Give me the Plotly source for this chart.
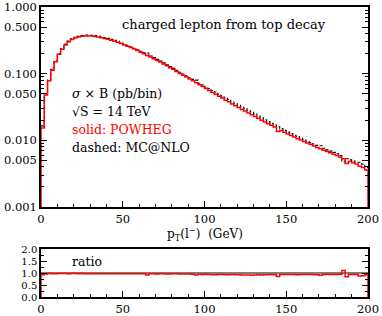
import plotly.graph_objects as go

# ---------------- data ----------------
bin_edges = list(range(0, 201, 2))  # pT bin edges (GeV), 2 GeV bins

powheg = [
    0.0153, 0.048, 0.078, 0.113, 0.151, 0.195, 0.232, 0.270, 0.300, 0.325,
    0.343, 0.355, 0.363, 0.367, 0.368, 0.366, 0.362, 0.355, 0.347, 0.338,
    0.328, 0.318, 0.307, 0.295, 0.283, 0.270, 0.258, 0.246, 0.234, 0.222,
    0.210, 0.199, 0.188, 0.178, 0.168, 0.158, 0.149, 0.140, 0.131, 0.123,
    0.116, 0.108, 0.101, 0.095, 0.089, 0.083, 0.078, 0.073, 0.068, 0.064,
    0.060, 0.056, 0.052, 0.049, 0.046, 0.043, 0.040, 0.038, 0.035, 0.033,
    0.031, 0.029, 0.0275, 0.0258, 0.0242, 0.0228, 0.0214, 0.0201, 0.0189, 0.0178,
    0.0168, 0.0158, 0.0136, 0.0140, 0.0132, 0.0125, 0.0118, 0.0112, 0.0106, 0.0101,
    0.0096, 0.0091, 0.0087, 0.0082, 0.0078, 0.0075, 0.0071, 0.0068, 0.0065, 0.0062,
    0.0059, 0.0056, 0.0053, 0.0045, 0.0048, 0.0046, 0.0044, 0.0041, 0.0039, 0.0036,
]

mcnlo = [
    0.0165, 0.050, 0.080, 0.116, 0.155, 0.200, 0.238, 0.277, 0.308, 0.333,
    0.352, 0.365, 0.372, 0.377, 0.379, 0.376, 0.372, 0.366, 0.357, 0.347,
    0.338, 0.327, 0.316, 0.305, 0.291, 0.279, 0.266, 0.254, 0.241, 0.229,
    0.217, 0.206, 0.204, 0.184, 0.174, 0.164, 0.154, 0.145, 0.136, 0.128,
    0.120, 0.112, 0.105, 0.099, 0.093, 0.087, 0.082, 0.080, 0.072, 0.068,
    0.063, 0.060, 0.056, 0.053, 0.049, 0.046, 0.043, 0.041, 0.0375, 0.0355,
    0.0335, 0.0315, 0.0300, 0.0280, 0.0266, 0.0250, 0.0232, 0.0218, 0.0204, 0.0191,
    0.0180, 0.0170, 0.0160, 0.0150, 0.0141, 0.0133, 0.0126, 0.0119, 0.0114, 0.0108,
    0.0102, 0.0097, 0.0093, 0.0088, 0.0084, 0.0083, 0.0076, 0.0072, 0.0069, 0.0066,
    0.0063, 0.0059, 0.0048, 0.0053, 0.0051, 0.0049, 0.0047, 0.0047, 0.0044, 0.0039,
]

ratio = [p / m for p, m in zip(powheg, mcnlo)]

x_tickvals = [0, 50, 100, 150, 200]
main_tickvals = [0.001, 0.005, 0.01, 0.05, 0.1, 0.5, 1.0]
main_ticktext = ["0.001", "0.005", "0.010", "0.050", "0.100", "0.500", "1.000"]
ratio_tickvals = [0.0, 0.5, 1.0, 1.5, 2.0]
ratio_ticktext = ["0.0", "0.5", "1.0", "1.5", "2.0"]


def step_closed(edges, vals, floor):
    xs = [edges[0]] + edges[:-1] + [edges[-1], edges[-1]]
    ys = [floor] + list(vals) + [vals[-1], floor]
    return xs, ys


def step_open(edges, vals):
    return edges[:-1] + [edges[-1]], list(vals) + [vals[-1]]


FONT = "DejaVu Serif"
fig = go.Figure()

# MC@NLO dashed (main)
mx, my = step_open(bin_edges, mcnlo)
fig.add_trace(go.Scatter(x=mx, y=my, mode="lines", line_shape="hv",
                         line=dict(color="black", width=1.1, dash="3px,2px"),
                         xaxis="x", yaxis="y", showlegend=False))
# POWHEG solid (main)
px_, py_ = step_closed(bin_edges, powheg, 1e-5)
fig.add_trace(go.Scatter(x=px_, y=py_, mode="lines", line_shape="hv",
                         line=dict(color="#ff0000", width=1.5),
                         xaxis="x", yaxis="y", showlegend=False))

# ratio panel
fig.add_trace(go.Scatter(x=[bin_edges[0], bin_edges[-1]], y=[1.0, 1.0], mode="lines",
                         line=dict(color="black", width=1.2),
                         xaxis="x2", yaxis="y2", showlegend=False))
rx, ry = step_closed(bin_edges, ratio, -1.0)
fig.add_trace(go.Scatter(x=rx, y=ry, mode="lines", line_shape="hv",
                         line=dict(color="#ff0000", width=1.5),
                         xaxis="x2", yaxis="y2", showlegend=False))

minor_log = [k * 10 ** e for e in (-3, -2, -1) for k in range(2, 10)]

common_axis = dict(showline=True, linecolor="black", linewidth=1.5, mirror="allticks",
                   ticks="inside", ticklen=6, tickwidth=1, tickcolor="black",
                   showgrid=False, zeroline=False, automargin=False,
                   tickfont=dict(family=FONT, size=11.5, color="black"))

fig.update_layout(
    width=382, height=316,
    margin=dict(l=41, r=14, t=7, b=19),
    paper_bgcolor="white", plot_bgcolor="white",
    font=dict(family=FONT, size=11.5, color="black"),
    xaxis=dict(domain=[0, 1], range=[0, 200], anchor="y", tickvals=x_tickvals,
               minor=dict(ticks="inside", ticklen=3, dtick=10, tickcolor="black"),
               **{**common_axis, "mirror": True}),
    yaxis=dict(domain=[0.3103, 1.0], type="log", range=[-3, 0], anchor="x",
               tickvals=main_tickvals, ticktext=main_ticktext,
               minor=dict(ticks="inside", ticklen=3, tickvals=minor_log, tickcolor="black"),
               **common_axis),
    xaxis2=dict(domain=[0, 1], range=[0, 200], anchor="y2", tickvals=x_tickvals,
                minor=dict(ticks="inside", ticklen=3, dtick=10, tickcolor="black"),
                **{**common_axis, "mirror": True}),
    yaxis2=dict(domain=[0.0, 0.1655], range=[0, 2], anchor="x2",
                tickvals=ratio_tickvals, ticktext=ratio_ticktext,
                minor=dict(ticks="inside", ticklen=3, dtick=0.25, tickcolor="black"),
                **{**common_axis, "tickfont": dict(family=FONT, size=10, color="black")}),
)

def ann(text, x, y, color="black", xanchor="left", size=12.5):
    fig.add_annotation(text=text, x=x, y=y, xref="paper", yref="paper",
                       xanchor=xanchor, yanchor="middle", showarrow=False,
                       font=dict(family=FONT, size=size, color=color))

ann("charged lepton from top decay", 0.2416, 0.941, size=13)
ann("<i>σ</i> × B (pb/bin)", 0.0887, 0.703)
ann("√S = 14 TeV", 0.0887, 0.638)
ann("solid: POWHEG", 0.0887, 0.576, color="#ff0000")
ann("dashed: MC@NLO", 0.0887, 0.514)
ann("ratio", 0.0887, 0.1207)
ann("p<sub>T</sub>(l<sup>−</sup>)  (GeV)", 0.5015, 0.217, xanchor="center", size=12)

fig.write_html("out.html", config={"displayModeBar": False},
               post_script="document.body.style.margin='0px';document.body.style.overflow='hidden';")
